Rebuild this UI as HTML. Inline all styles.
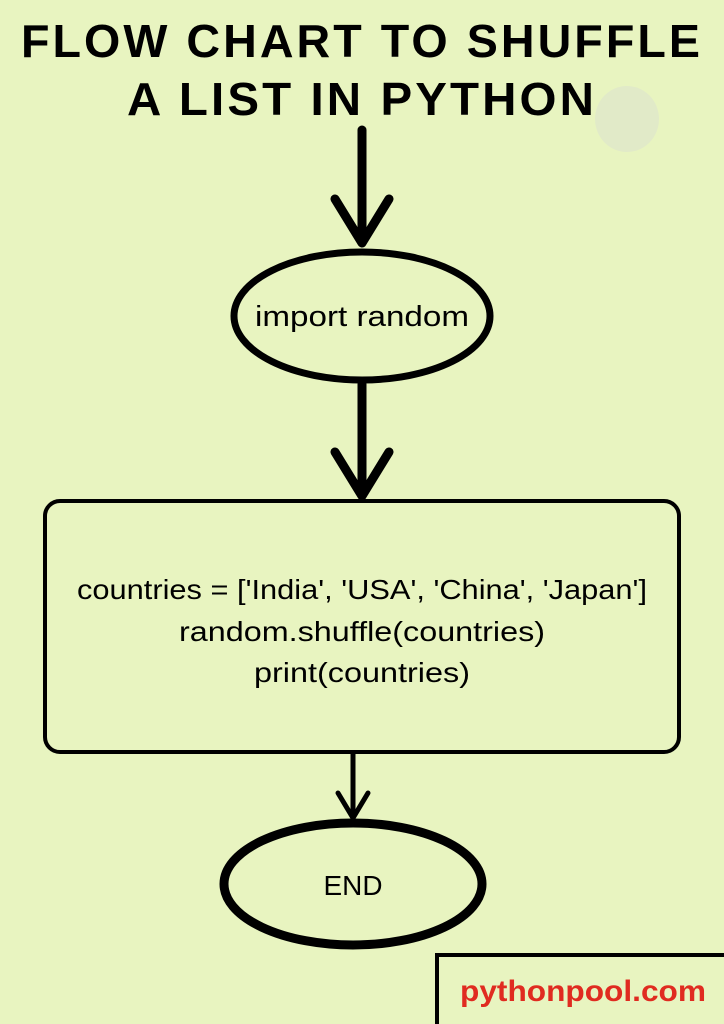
<!DOCTYPE html>
<html><head><meta charset="utf-8"><style>
html,body{margin:0;padding:0;width:724px;height:1024px;overflow:hidden;background:#e8f4c0}
</style></head><body>
<svg width="724" height="1024" viewBox="0 0 724 1024" xmlns="http://www.w3.org/2000/svg">
<rect width="724" height="1024" fill="#e8f4c0"/>
<ellipse cx="627" cy="119" rx="32" ry="33" fill="#e1eac8"/>
<g font-family="Liberation Sans, sans-serif" font-weight="bold" text-anchor="middle" fill="#000">
<text x="362" y="57" font-size="46" letter-spacing="3" textLength="682" lengthAdjust="spacingAndGlyphs">FLOW CHART TO SHUFFLE</text>
<text x="362" y="115" font-size="46" letter-spacing="3" textLength="470" lengthAdjust="spacingAndGlyphs">A LIST IN PYTHON</text>
</g>
<g stroke="#000" fill="none" stroke-linecap="round" stroke-linejoin="round">
<line x1="362" y1="130" x2="362" y2="242" stroke-width="9"/>
<polyline points="335,199 362,243 389,199" stroke-width="9"/>
<ellipse cx="362" cy="316" rx="128" ry="64" stroke-width="7"/>
<line x1="362" y1="384" x2="362" y2="495" stroke-width="9"/>
<polyline points="335,452 362,496 389,452" stroke-width="9"/>
<rect x="45" y="501" width="634" height="251" rx="15" stroke-width="4"/>
<line x1="353" y1="754" x2="353" y2="817" stroke-width="5"/>
<polyline points="338,793 353,818 368,793" stroke-width="5"/>
<ellipse cx="353" cy="884" rx="129" ry="61" stroke-width="9"/>
</g>
<rect x="437" y="955" width="290" height="72" fill="none" stroke="#000" stroke-width="4"/>
<g font-family="Liberation Sans, sans-serif" text-anchor="middle" fill="#000">
<text x="362" y="326" font-size="29" textLength="214" lengthAdjust="spacingAndGlyphs">import random</text>
<text x="362" y="599" font-size="28" textLength="570" lengthAdjust="spacingAndGlyphs">countries = ['India', 'USA', 'China', 'Japan']</text>
<text x="362" y="641" font-size="28" textLength="366" lengthAdjust="spacingAndGlyphs">random.shuffle(countries)</text>
<text x="362" y="682" font-size="28" textLength="216" lengthAdjust="spacingAndGlyphs">print(countries)</text>
<text x="353" y="895" font-size="28" textLength="59" lengthAdjust="spacingAndGlyphs">END</text>
<text x="583" y="1001" font-size="30" font-weight="bold" fill="#e02b20" textLength="246" lengthAdjust="spacingAndGlyphs">pythonpool.com</text>
</g>
</svg>
</body></html>
